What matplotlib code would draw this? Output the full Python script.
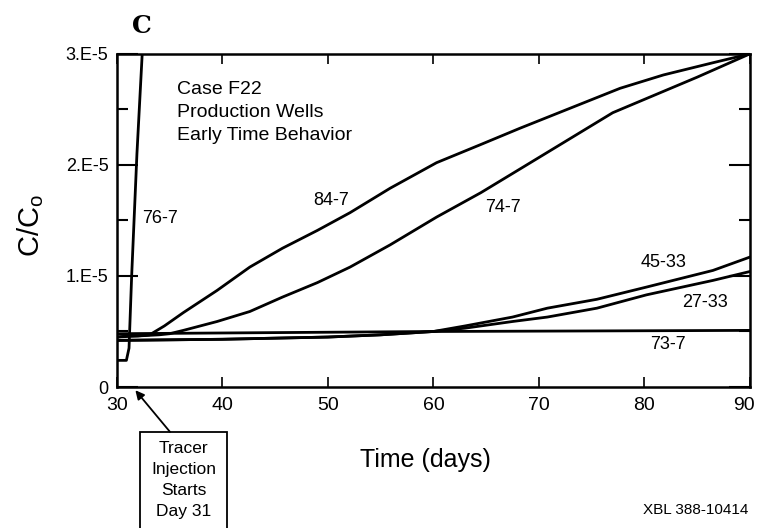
import matplotlib
matplotlib.use("Agg")
import matplotlib.pyplot as plt
import matplotlib.transforms as mtransforms
from matplotlib.patches import Rectangle

plt.rcParams["font.family"] = ["Liberation Sans", "DejaVu Sans"]

# values, C/Co in units of 1e-5
days_76_7 = [30, 30.9, 31.15, 31.4, 31.9, 32.4]
conc_76_7 = [0.24, 0.24, 0.35, 1.0, 2.1, 3.0]

days_84_7 = [30, 31, 32, 33.1, 34.5, 36.3, 39.5, 42.6, 45.7, 49.0, 52.1, 55.9,
             60.3, 64.4, 68.2, 77.7, 81.8, 86.5, 90]
conc_84_7 = [0.45, 0.46, 0.46, 0.47, 0.55, 0.67, 0.87, 1.08, 1.25, 1.41, 1.57,
             1.79, 2.02, 2.18, 2.33, 2.69, 2.81, 2.92, 3.0]

days_74_7 = [30, 32, 34, 35, 36.3, 39.5, 42.6, 45.7, 49.0, 52.1, 55.9, 60.3,
             64.5, 68.5, 77.0, 85.0, 90]
conc_74_7 = [0.45, 0.46, 0.47, 0.48, 0.51, 0.59, 0.68, 0.81, 0.94, 1.08, 1.28,
             1.53, 1.75, 1.98, 2.47, 2.79, 3.0]

days_45_33 = [30, 40, 50, 55, 60, 63, 67.5, 70.8, 75.5, 80.2, 86.5, 90]
conc_45_33 = [0.42, 0.43, 0.45, 0.47, 0.50, 0.55, 0.63, 0.71, 0.79, 0.90, 1.05, 1.17]

days_27_33 = [30, 40, 50, 55, 60, 63, 67.5, 70.8, 75.5, 80.2, 86.5, 90]
conc_27_33 = [0.42, 0.43, 0.45, 0.47, 0.50, 0.53, 0.59, 0.63, 0.71, 0.83, 0.96, 1.04]

days_73_7 = [30, 60, 90]
conc_73_7 = [0.48, 0.50, 0.51]

series = [
    (days_76_7, conc_76_7),
    (days_84_7, conc_84_7),
    (days_74_7, conc_74_7),
    (days_45_33, conc_45_33),
    (days_27_33, conc_27_33),
    (days_73_7, conc_73_7),
]

# label text and (day, C/Co) anchor for each curve label
curve_labels = [
    ("76-7", 34.1, 1.52),
    ("84-7", 50.3, 1.68),
    ("74-7", 66.6, 1.62),
    ("45-33", 81.8, 1.12),
    ("27-33", 85.7, 0.76),
    ("73-7", 82.2, 0.38),
]

fig = plt.figure(figsize=(7.59, 5.28), dpi=100)
ax = fig.add_axes([0.154, 0.267, 0.834, 0.631])

for d, c in series:
    ax.plot(d, [v * 1e-5 for v in c], color="black", lw=2.0)

ax.set_xlim(30, 90)
ax.set_ylim(0, 3e-5)

ax.set_xticks([30, 40, 50, 60, 70, 80, 90])
ax.set_xticklabels(["30", "40", "50", "60", "70", "80", "90"], fontsize=14)
ax.set_yticks([0, 1e-5, 2e-5, 3e-5])
ax.set_yticklabels(["0", "1.E-5", "2.E-5", "3.E-5"], fontsize=13)
ax.set_yticks([0.5e-5, 1.5e-5, 2.5e-5], minor=True)

ax.tick_params(axis="x", which="major", direction="in", length=7, width=1.2,
               top=True, pad=7)
ax.tick_params(axis="y", which="major", direction="in", length=15, width=1.5,
               right=True, pad=6)
ax.tick_params(axis="y", which="minor", direction="in", length=8, width=1.5,
               right=True)
for s in ax.spines.values():
    s.set_linewidth(1.8)

# nudge the "90" label left so it stays inside the picture
last = ax.get_xticklabels()[-1]
last.set_transform(last.get_transform() +
                   mtransforms.ScaledTranslation(-6 / 100, 0, fig.dpi_scale_trans))

fig.text(0.56, 0.129, "Time (days)", fontsize=18, ha="center", va="center")
fig.text(0.04, 0.572, "C/C$_\\mathregular{o}$", fontsize=21, rotation=90,
         ha="center", va="center")

for txt, x, y in curve_labels:
    ax.text(x, y * 1e-5, txt, fontsize=13, ha="center", va="center")

ax.text(35.7, 2.47e-5, "Case F22\nProduction Wells\nEarly Time Behavior",
        fontsize=14, ha="left", va="center", linespacing=1.45)

fig.text(0.187, 0.95, "C", family="DejaVu Serif", fontsize=18,
         fontweight="bold", ha="center", va="center")

# arrow from the note box to day 31 on the time axis
ax.annotate("", xy=(31.5, 0), xycoords="data",
            xytext=(0.224, 0.182), textcoords="figure fraction",
            arrowprops=dict(arrowstyle="-|>", color="black", lw=1.3,
                            shrinkA=0, shrinkB=3, mutation_scale=13),
            annotation_clip=False)
fig.patches.append(Rectangle((0.1845, -0.02), 0.1146, 0.202,
                             transform=fig.transFigure, fill=False,
                             ec="black", lw=1.3))
fig.text(0.2418, 0.09, "Tracer\nInjection\nStarts\nDay 31", fontsize=12.5,
         ha="center", va="center", linespacing=1.5)

fig.text(0.916, 0.034, "XBL 388-10414", fontsize=11, ha="center", va="center")

fig.savefig("out.png", dpi=100)
